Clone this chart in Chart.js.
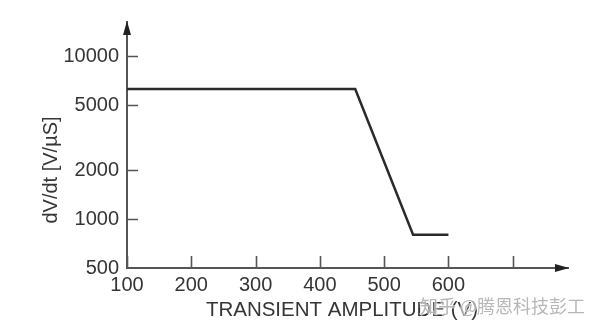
<!DOCTYPE html>
<html>
<head>
    <title>dV/dt vs Transient Amplitude</title>
    <script src="https://cdn.jsdelivr.net/npm/chart.js@4/dist/chart.umd.min.js"></script>
    <style>
        body {
            margin: 0;
            background-color: white;
        }
        .chart-container {
            width: 600px;
            height: 333px;
        }
    </style>
</head>
<body>
    <div class="chart-container">
        <canvas id="dvdtChart"></canvas>
    </div>

    <script>
    // data
    const amplitude = [100, 455, 545, 600];
    const dvdt = [6300, 6300, 800, 800];
    const xTicks = [100, 200, 300, 400, 500, 600, 700];
    const xLabelled = [100, 200, 300, 400, 500, 600];
    const yTicks = [500, 1000, 2000, 5000, 10000];

    const FONT = '"Liberation Sans", Arial, Helvetica, sans-serif';
    const AXIS_COLOR = '#555';
    const TEXT_COLOR = '#353535';

    // inward tick marks, arrow heads, axis titles, watermark
    const axisDecor = {
        id: 'axisDecor',
        afterDraw(chart) {
            const ctx = chart.ctx;
            const area = chart.chartArea;
            const xs = chart.scales.x;
            const ys = chart.scales.y;
            ctx.save();
            ctx.strokeStyle = AXIS_COLOR;
            ctx.lineWidth = 1.6;
            ctx.beginPath();
            xTicks.forEach(v => {
                const px = Math.round(xs.getPixelForValue(v)) + 0.5;
                ctx.moveTo(px, area.bottom);
                ctx.lineTo(px, area.bottom - 12);
            });
            yTicks.slice(1).forEach(v => {
                const py = Math.round(ys.getPixelForValue(v)) + 0.5;
                ctx.moveTo(area.left, py);
                ctx.lineTo(area.left + 11, py);
            });
            ctx.stroke();

            // arrows
            ctx.fillStyle = '#222';
            ctx.beginPath();
            ctx.moveTo(area.right + 1, area.bottom);
            ctx.lineTo(area.right - 13, area.bottom - 4);
            ctx.lineTo(area.right - 13, area.bottom + 4);
            ctx.closePath();
            ctx.fill();
            ctx.beginPath();
            ctx.moveTo(area.left, area.top - 1);
            ctx.lineTo(area.left - 4, area.top + 13);
            ctx.lineTo(area.left + 4, area.top + 13);
            ctx.closePath();
            ctx.fill();

            // axis titles
            ctx.fillStyle = TEXT_COLOR;
            ctx.font = '20.5px ' + FONT;
            ctx.textAlign = 'center';
            ctx.textBaseline = 'middle';
            ctx.fillText('TRANSIENT AMPLITUDE (V)', 342, 310);
            ctx.save();
            ctx.translate(51, 170);
            ctx.rotate(-Math.PI / 2);
            ctx.font = '20px ' + FONT;
            ctx.fillText('dV/dt [V/\u00B5S]', 0, 0);
            ctx.restore();

            // watermark
            ctx.font = '18px "Noto Sans CJK SC", sans-serif';
            ctx.textAlign = 'left';
            ctx.lineWidth = 2;
            ctx.strokeStyle = 'rgba(255,255,255,0.6)';
            ctx.strokeText('知乎 @腾恩科技彭工', 420, 306);
            ctx.fillStyle = 'rgba(165,165,165,0.8)';
            ctx.fillText('知乎 @腾恩科技彭工', 420, 306);
            ctx.restore();
        }
    };

    const config = {
        type: 'line',
        data: {
            datasets: [{
                label: 'dV/dt',
                data: amplitude.map((x, i) => ({x: x, y: dvdt[i]})),
                borderColor: '#2a2a2a',
                borderWidth: 2.5,
                pointRadius: 0,
                tension: 0,
                fill: false
            }]
        },
        options: {
            responsive: true,
            maintainAspectRatio: false,
            animation: false,
            layout: {
                padding: {top: 22, right: 32, left: 0, bottom: 0}
            },
            plugins: {
                legend: {display: false},
                tooltip: {enabled: false}
            },
            scales: {
                x: {
                    type: 'linear',
                    min: 100,
                    max: 786,
                    afterBuildTicks: scale => {
                        scale.ticks = xTicks.map(v => ({value: v}));
                    },
                    afterFit: scale => {
                        scale.height = 65;
                    },
                    grid: {display: false, drawTicks: false},
                    border: {display: true, color: AXIS_COLOR, width: 2},
                    ticks: {
                        padding: 5,
                        maxRotation: 0,
                        autoSkip: false,
                        color: TEXT_COLOR,
                        font: {family: FONT, size: 20},
                        callback: v => xLabelled.includes(v) ? String(v) : ''
                    }
                },
                y: {
                    type: 'logarithmic',
                    min: 500,
                    max: 16300,
                    afterBuildTicks: scale => {
                        scale.ticks = yTicks.map(v => ({value: v}));
                    },
                    afterFit: scale => {
                        scale.width = 127;
                    },
                    grid: {display: false, drawTicks: false},
                    border: {display: true, color: AXIS_COLOR, width: 2},
                    ticks: {
                        padding: 8,
                        autoSkip: false,
                        color: TEXT_COLOR,
                        font: {family: FONT, size: 20},
                        callback: v => String(v)
                    }
                }
            }
        },
        plugins: [axisDecor]
    };

    new Chart(document.getElementById('dvdtChart').getContext('2d'), config);
    </script>
</body>
</html>
